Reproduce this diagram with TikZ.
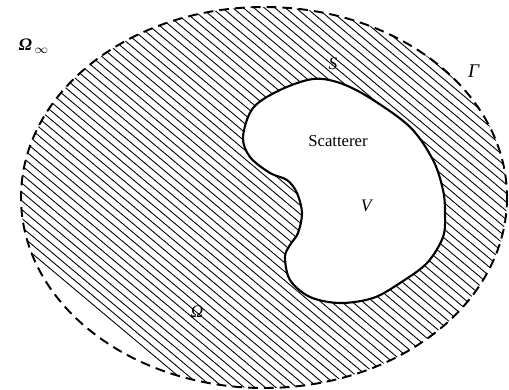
\documentclass[tikz,border=0pt]{standalone}
\usepackage{fontspec}
\setmainfont{Liberation Serif}
\usepackage{tikz}
\usetikzlibrary{calc}

\tikzset{
  hatch/.style={line width=0.5pt, black},
  farfield/.style={line width=1.1pt, dash pattern=on 5.6pt off 3.4pt},
  scattline/.style={line width=1.2pt, fill=white, line join=round},
  lbl/.style={font=\fontsize{10}{12}\selectfont, inner sep=0pt}
}

\begin{document}
\begin{tikzpicture}[x=0.02cm, y=-0.02cm]
  \useasboundingbox (0,0) rectangle (509,389);

  % hatched region between scatterer and boundary
  \begin{scope}
    \clip (264,197.5) ellipse (243 and 190.5);
    \foreach \c in {-270,-259.5,...,540}
      \draw[hatch] (\c-120,-100.7) -- (\c+520,436.3);
  \end{scope}
  \draw[farfield] (264,197.5) ellipse (243 and 190.5);

  % scatterer body
  \filldraw[scattline] plot[smooth cycle, tension=0.55] coordinates {
    (313,79) (340,83) (370,98) (410,127) (433,160) (443,190) (445,213)
    (443,237) (427,263) (400,283) (373,298) (340,303) (310,297) (290,280)
    (285,257) (290,245) (298,233) (302,213) (297,193) (287,180) (270,173)
    (250,157) (243,137) (253,108) (280,90)};

  \node[lbl] (omegainf) at (34,46) {\textit{\textbf{Ω}}$_{\,\infty}$};
  \node[lbl] (surf) at (333,64) {\textit{S}};
  \node[lbl, font=\fontsize{11}{12}\selectfont] (gamma) at (474,71) {\textit{Γ}};
  \node[lbl, font=\fontsize{9.5}{11}\selectfont] (scat) at (338,141) {Scatterer};
  \node[lbl] (vol) at (367,206) {\textit{V}};
  \node[lbl] (omega) at (197,312) {\textit{Ω}};
\end{tikzpicture}
\end{document}
